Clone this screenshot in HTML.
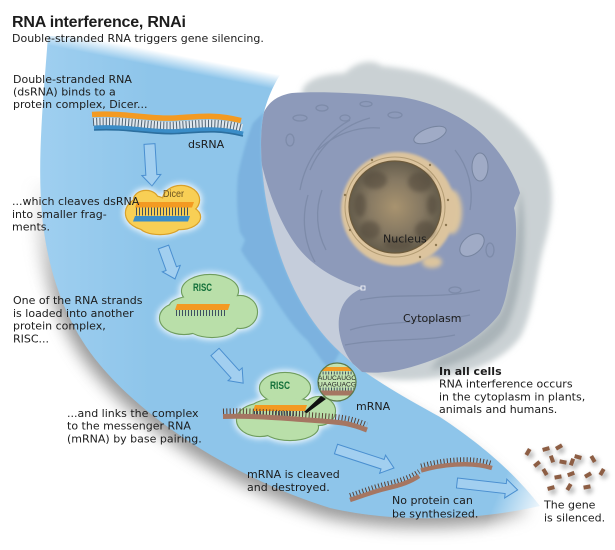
<!DOCTYPE html>
<html><head><meta charset="utf-8"><style>
html,body{margin:0;padding:0;background:#fff;}
svg{display:block;}
.t{font-family:"DejaVu Sans","Liberation Sans",sans-serif;font-size:11px;fill:#1c1c1c;}
</style></head><body>
<svg width="615" height="550" viewBox="0 0 615 550" xmlns="http://www.w3.org/2000/svg">
<defs>
<filter id="b1" x="-20%" y="-20%" width="140%" height="140%"><feGaussianBlur stdDeviation="1.2"/></filter>
<filter id="b2" x="-40%" y="-40%" width="180%" height="180%"><feGaussianBlur stdDeviation="2"/></filter>
<filter id="b3" x="-30%" y="-30%" width="160%" height="160%"><feGaussianBlur stdDeviation="3"/></filter>
<filter id="b5" x="-30%" y="-30%" width="160%" height="160%"><feGaussianBlur stdDeviation="5"/></filter>
<filter id="b8" x="-30%" y="-30%" width="160%" height="160%"><feGaussianBlur stdDeviation="8"/></filter>
<linearGradient id="gTop" gradientUnits="userSpaceOnUse" x1="160" y1="44" x2="153" y2="80"><stop offset="0.2" stop-color="#000"/><stop offset="0.62" stop-color="#fff"/></linearGradient>
<linearGradient id="gTip" gradientUnits="userSpaceOnUse" x1="503" y1="482" x2="550" y2="502"><stop offset="0" stop-color="#fff"/><stop offset="1" stop-color="#000"/></linearGradient>
<linearGradient id="gSh" gradientUnits="userSpaceOnUse" x1="0" y1="175" x2="0" y2="310"><stop offset="0" stop-color="#000"/><stop offset="1" stop-color="#fff"/></linearGradient>
<mask id="mTop" maskUnits="userSpaceOnUse" x="0" y="0" width="615" height="550"><rect width="615" height="550" fill="url(#gTop)"/></mask>
<mask id="mTip" maskUnits="userSpaceOnUse" x="0" y="0" width="615" height="550"><rect width="615" height="550" fill="url(#gTip)"/></mask>
<mask id="mSh" maskUnits="userSpaceOnUse" x="0" y="0" width="615" height="550"><rect width="615" height="550" fill="url(#gSh)"/></mask>
<linearGradient id="gBlue" gradientUnits="userSpaceOnUse" x1="40" y1="0" x2="150" y2="0"><stop offset="0" stop-color="#9fcff0"/><stop offset="1" stop-color="#8ec5ea"/></linearGradient>
<radialGradient id="gNuc" cx="395" cy="207" r="46" gradientUnits="userSpaceOnUse"><stop offset="0" stop-color="#a8936f"/><stop offset="0.6" stop-color="#857862"/><stop offset="1" stop-color="#655d4c"/></radialGradient>
<path id="cres" d="M48,36 C44,90 38,150 41,200 C44,260 62,320 100,365 C150,425 240,480 330,508 C390,522 470,522 540,506 C520,480 490,450 440,417 C400,395 365,375 340,352 C305,320 280,270 268,210 C262,180 258,140 264,112 C270,90 280,72 292,60 C220,48 120,38 48,36 Z"/>
<path id="body" d="M264,112 C270,100 280,95 292,93 C320,91 360,93 400,97 C430,101 460,115 480,132 C500,150 515,175 520,193 L514,208 C518,225 516,255 510,275 C507,290 506,300 500,313 C492,325 470,345 440,357 C415,367 390,375 362,372 L340,352 C305,320 280,270 268,210 C262,180 258,140 264,112 Z"/>
<clipPath id="cBody"><use href="#body"/></clipPath>
<clipPath id="cz"><circle cx="337" cy="382" r="19"/></clipPath>
<path id="ds" fill="none" d="M92,114.5 C125,112.5 150,119.5 175,118 S215,114 241,120.5"/>
<path id="mr" fill="none" d="M223,416.5 C255,415.5 285,418.5 315,420.5 S350,423.5 367,430"/>
<path id="fa" fill="none" d="M350,500 C362,496 375,491 388,488 S410,482 419,476"/>
<path id="fb" fill="none" d="M421,470.5 C440,465 470,461 492,468"/>
</defs>

<rect width="615" height="550" fill="#fff"/>

<!-- cell halo -->
<path d="M302,96 C300,82 318,74 345,73 C355,62 372,58 382,66 C405,68 432,73 456,85 C492,100 524,126 544,160 C556,186 553,216 544,246 C536,276 534,310 521,336 C507,357 478,371 442,377 C410,382 382,382 362,372 Z" fill="#cad1d4" filter="url(#b3)"/>
<path d="M520,190 C530,230 522,300 505,330 C490,350 460,365 430,370 L440,357 C470,345 492,325 500,313 C510,290 516,240 520,190 Z" fill="#a3adb2" filter="url(#b3)" opacity="0.8"/>

<!-- crescent + shadow -->
<g mask="url(#mTip)">
  <g mask="url(#mSh)"><use href="#cres" fill="#6e6e6e" opacity="0.7" transform="translate(-5,9)" filter="url(#b8)"/></g>
  <use href="#cres" fill="url(#gBlue)" mask="url(#mTop)"/>
</g>
<!-- darker cell silhouette in crescent -->
<path d="M253,123 C248,135 242,155 238,175 C236,195 237,215 240,232 L245,240 L241,250 C247,262 258,272 267,287 C276,300 290,325 307,340 C315,350 322,362 330,370 L340,352 C305,320 280,270 268,210 C262,180 258,140 264,112 Z" fill="#7bb2df" filter="url(#b1)"/>

<!-- cell body -->
<use href="#body" fill="#8d9aba"/>
<g clip-path="url(#cBody)" fill="none" stroke="#74829f" stroke-width="1.3" opacity="0.6">
  <path d="M318,150 A80,80 0 0 1 380,128"/>
  <path d="M310,170 A90,90 0 0 1 370,118"/>
  <path d="M300,190 A100,100 0 0 1 350,120"/>
  <path d="M326,250 A75,75 0 0 1 322,190"/>
  <path d="M315,262 A88,88 0 0 1 308,195"/>
  <path d="M455,150 A75,75 0 0 1 470,210"/>
  <path d="M350,330 C380,320 420,325 470,315"/>
  <path d="M345,345 C380,338 420,342 455,335"/>
  <path d="M360,300 C400,292 440,300 480,290"/>
  <ellipse cx="300" cy="118" rx="7" ry="3"/>
  <ellipse cx="322" cy="108" rx="6" ry="3"/>
  <ellipse cx="345" cy="118" rx="5" ry="3"/>
  <ellipse cx="366" cy="104" rx="6" ry="2.5"/>
  <ellipse cx="395" cy="115" rx="7" ry="3"/>
  <ellipse cx="290" cy="140" rx="4" ry="6"/>
  <ellipse cx="455" cy="290" rx="6" ry="3"/>
  <ellipse cx="490" cy="250" rx="4" ry="7"/>
</g>
<!-- mitochondria -->
<g fill="#a0abc6" stroke="#76849f" stroke-width="1">
  <ellipse cx="430" cy="135" rx="17" ry="7" transform="rotate(-20 430 135)"/>
  <ellipse cx="480" cy="167" rx="8" ry="14"/>
  <ellipse cx="472" cy="245" rx="14" ry="9" transform="rotate(-40 472 245)"/>
</g>
<!-- light wedge -->
<path d="M262,165 C264,190 266,200 268,210 C280,270 305,320 340,352 L362,372 C352,365 342,352 339,330 C337,310 345,295 363,288 C340,282 315,268 300,250 C285,232 270,200 262,165 Z" fill="#c5cddb"/>
<rect x="361" y="286" width="4" height="4" fill="none" stroke="#fff" stroke-width="0.8"/>

<!-- nucleus -->
<ellipse cx="452" cy="212" rx="10" ry="22" fill="#dcc59e" filter="url(#b2)"/>
<ellipse cx="432" cy="262" rx="10" ry="6" fill="#dcc59e" filter="url(#b2)"/>
<circle cx="398" cy="209" r="57" fill="#dcc49e" filter="url(#b1)"/>
<circle cx="395" cy="207" r="50" fill="none" stroke="#b39c73" stroke-width="1"/>
<circle cx="395" cy="207" r="46" fill="url(#gNuc)" stroke="#6d5b3c" stroke-width="1.2"/>
<g fill="#544c3e" opacity="0.6" filter="url(#b2)">
  <ellipse cx="375" cy="180" rx="12" ry="9"/>
  <ellipse cx="420" cy="182" rx="12" ry="10"/>
  <ellipse cx="370" cy="230" rx="10" ry="9"/>
  <ellipse cx="425" cy="230" rx="10" ry="9"/>
  <ellipse cx="398" cy="244" rx="14" ry="6"/>
  <ellipse cx="360" cy="205" rx="6" ry="12"/>
  <ellipse cx="432" cy="205" rx="5" ry="10"/>
</g>
<g fill="#8c7751">
  <circle cx="448" cy="200" r="1.2"/><circle cx="446" cy="225" r="1.2"/><circle cx="436" cy="245" r="1.2"/>
  <circle cx="420" cy="257" r="1.2"/><circle cx="350" cy="230" r="1.2"/><circle cx="345" cy="195" r="1.2"/>
  <circle cx="372" cy="160" r="1.2"/><circle cx="430" cy="165" r="1.2"/>
</g>

<!-- dsRNA -->
<use href="#ds" transform="translate(1,7.5)" stroke="#dfe7ee" stroke-width="8"/>
<use href="#ds" transform="translate(1,7.5)" stroke="#4f6272" stroke-width="8" stroke-dasharray="1 2.2"/>
<use href="#ds" transform="translate(2,13.5)" stroke="#3a8dc8" stroke-width="5"/>
<use href="#ds" transform="translate(2,15.5)" stroke="#2c6f9f" stroke-width="1.6"/>
<use href="#ds" stroke="#f39a22" stroke-width="5.5"/>

<!-- arrows -->
<g fill="#a2cff0" stroke="#4a8fd0" stroke-width="1">
  <path transform="translate(149.5,144) rotate(86.6)" d="M0,-5.5 L31,-5.5 L31,-9.5 L42,0 L31,9.5 L31,5.5 L0,5.5 Z"/>
  <path transform="translate(163.5,247) rotate(70.2)" d="M0,-5.5 L23,-5.5 L23,-9.5 L34,0 L23,9.5 L23,5.5 L0,5.5 Z"/>
  <path transform="translate(215,352) rotate(47.9)" d="M0,-5.5 L30,-5.5 L30,-9.5 L42,0 L30,9.5 L30,5.5 L0,5.5 Z"/>
  <path transform="translate(336,449) rotate(18.1)" d="M0,-5 L49,-5 L49,-9.5 L61,0 L49,9.5 L49,5 L0,5 Z"/>
  <path transform="translate(457,483) rotate(6.5)" d="M0,-5 L49,-5 L49,-9.5 L61,0 L49,9.5 L49,5 L0,5 Z"/>
</g>

<!-- Dicer -->
<g fill="#fff" stroke="#fff" stroke-width="6" opacity="0.85" filter="url(#b3)">
  <ellipse cx="150" cy="213" rx="24" ry="17"/><ellipse cx="181" cy="200" rx="18" ry="14"/><ellipse cx="180" cy="217" rx="20" ry="12"/><ellipse cx="160" cy="226" rx="20" ry="8"/><ellipse cx="146" cy="200" rx="12" ry="9"/>
</g>
<g fill="#d9a12a" stroke="#d9a12a" stroke-width="2.4">
  <ellipse cx="150" cy="213" rx="24" ry="17"/><ellipse cx="181" cy="200" rx="18" ry="14"/><ellipse cx="180" cy="217" rx="20" ry="12"/><ellipse cx="160" cy="226" rx="20" ry="8"/><ellipse cx="146" cy="200" rx="12" ry="9"/>
</g>
<g fill="#f8cf55">
  <ellipse cx="150" cy="213" rx="24" ry="17"/><ellipse cx="181" cy="200" rx="18" ry="14"/><ellipse cx="180" cy="217" rx="20" ry="12"/><ellipse cx="160" cy="226" rx="20" ry="8"/><ellipse cx="146" cy="200" rx="12" ry="9"/>
</g>
<text x="163" y="197" font-family="Liberation Sans, sans-serif" font-size="10" fill="#6b5320" textLength="21" lengthAdjust="spacingAndGlyphs">Dicer</text>
<line x1="136" y1="211.5" x2="190" y2="211.5" stroke="#3e4f60" stroke-width="8" stroke-dasharray="1 2"/>
<polygon points="137,202 194,202 192,207.5 135,207.5" fill="#f39a22"/>
<polygon points="135,216 190,216 188,221.5 133,221.5" fill="#3a8dc8"/>

<!-- RISC 1 -->
<g fill="#fff" stroke="#fff" stroke-width="6" opacity="0.85" filter="url(#b3)">
  <ellipse cx="210" cy="291" rx="28" ry="16"/><ellipse cx="184" cy="318" rx="24" ry="16"/><ellipse cx="212" cy="324" rx="26" ry="13"/><ellipse cx="240" cy="312" rx="17" ry="16"/><ellipse cx="200" cy="306" rx="30" ry="10"/>
</g>
<g fill="#6f9d5e" stroke="#6f9d5e" stroke-width="2.2">
  <ellipse cx="210" cy="291" rx="28" ry="16"/><ellipse cx="184" cy="318" rx="24" ry="16"/><ellipse cx="212" cy="324" rx="26" ry="13"/><ellipse cx="240" cy="312" rx="17" ry="16"/><ellipse cx="200" cy="306" rx="30" ry="10"/>
</g>
<g fill="#b9dfa9">
  <ellipse cx="210" cy="291" rx="28" ry="16"/><ellipse cx="184" cy="318" rx="24" ry="16"/><ellipse cx="212" cy="324" rx="26" ry="13"/><ellipse cx="240" cy="312" rx="17" ry="16"/><ellipse cx="200" cy="306" rx="30" ry="10"/>
</g>
<text x="193" y="291" font-family="Liberation Sans, sans-serif" font-size="11" font-weight="bold" fill="#13703a" textLength="19" lengthAdjust="spacingAndGlyphs">RISC</text>
<line x1="176" y1="313" x2="227" y2="313" stroke="#3e4f60" stroke-width="6" stroke-dasharray="1 2"/>
<polygon points="177,304 230,304 228,310 175,310" fill="#f39a22"/>

<!-- RISC 2 -->
<g fill="#fff" stroke="#fff" stroke-width="6" opacity="0.85" filter="url(#b3)">
  <ellipse cx="285" cy="388" rx="25" ry="15"/><ellipse cx="260" cy="420" rx="23" ry="16"/><ellipse cx="290" cy="427" rx="28" ry="13"/><ellipse cx="319" cy="411" rx="16" ry="14"/><ellipse cx="285" cy="410" rx="35" ry="12"/>
</g>
<g fill="#6f9d5e" stroke="#6f9d5e" stroke-width="2.2">
  <ellipse cx="285" cy="388" rx="25" ry="15"/><ellipse cx="260" cy="420" rx="23" ry="16"/><ellipse cx="290" cy="427" rx="28" ry="13"/><ellipse cx="319" cy="411" rx="16" ry="14"/><ellipse cx="285" cy="410" rx="35" ry="12"/>
</g>
<g fill="#b9dfa9">
  <ellipse cx="285" cy="388" rx="25" ry="15"/><ellipse cx="260" cy="420" rx="23" ry="16"/><ellipse cx="290" cy="427" rx="28" ry="13"/><ellipse cx="319" cy="411" rx="16" ry="14"/><ellipse cx="285" cy="410" rx="35" ry="12"/>
</g>
<text x="270" y="389" font-family="Liberation Sans, sans-serif" font-size="11" font-weight="bold" fill="#13703a" textLength="20" lengthAdjust="spacingAndGlyphs">RISC</text>
<line x1="254" y1="413.5" x2="305" y2="413.5" stroke="#3e4f60" stroke-width="5" stroke-dasharray="1 2"/>
<polygon points="255,405 307,405 305,411 253,411" fill="#f39a22"/>

<!-- mRNA -->
<use href="#mr" transform="translate(0,-5)" stroke="#5a4034" stroke-width="6" stroke-dasharray="1 2.3"/>
<use href="#mr" stroke="#a57662" stroke-width="5"/>

<!-- zoom circle -->
<g clip-path="url(#cz)">
  <rect x="317" y="362" width="40" height="40" fill="#c2e2b2"/>
  <rect x="317" y="367" width="40" height="4" fill="#f29a26"/>
  <line x1="317" y1="373" x2="357" y2="373" stroke="#3e4f60" stroke-width="3" stroke-dasharray="1 1.8"/>
  <text x="318" y="380" font-family="Liberation Sans, sans-serif" font-size="6" fill="#222" textLength="38" lengthAdjust="spacingAndGlyphs">AUUCAUGC</text>
  <text x="318" y="386.5" font-family="Liberation Sans, sans-serif" font-size="6" fill="#222" textLength="38" lengthAdjust="spacingAndGlyphs">UAAGUACG</text>
  <line x1="317" y1="389" x2="357" y2="389" stroke="#3e4f60" stroke-width="3" stroke-dasharray="1 1.8"/>
  <rect x="317" y="390.5" width="40" height="5" fill="#a57662"/>
</g>
<circle cx="337" cy="382" r="19" fill="none" stroke="#5b7a4a" stroke-width="1.2"/>
<polygon points="321,396 326,399 307,413 304,412" fill="#111"/>

<!-- fragments -->
<use href="#fa" transform="translate(0,-4.5)" stroke="#5a4034" stroke-width="5" stroke-dasharray="1 2.3"/>
<use href="#fa" stroke="#a57662" stroke-width="4.5"/>
<use href="#fb" transform="translate(0,-4.5)" stroke="#5a4034" stroke-width="5" stroke-dasharray="1 2.3"/>
<use href="#fb" stroke="#a57662" stroke-width="4.5"/>

<!-- scattered pieces -->
<g>
  <g fill="#8a8a8a" opacity="0.55" filter="url(#b2)">
    <circle cx="530" cy="455" r="4"/><circle cx="548" cy="452" r="4"/><circle cx="561" cy="450" r="4"/><circle cx="539" cy="467" r="4"/><circle cx="554" cy="462" r="4"/><circle cx="565" cy="465" r="4"/><circle cx="574" cy="465" r="4"/><circle cx="580" cy="460" r="4"/><circle cx="595" cy="462" r="4"/><circle cx="547" cy="475" r="4"/><circle cx="560" cy="480" r="4"/><circle cx="573" cy="477" r="4"/><circle cx="590" cy="478" r="4"/><circle cx="604" cy="475" r="4"/><circle cx="553" cy="491" r="4"/><circle cx="571" cy="490" r="4"/><circle cx="589" cy="490" r="4"/>
  </g>
  <g fill="#8d5e44">
    <rect x="-3.5" y="-2" width="7" height="4" transform="translate(528,452) rotate(-60)"/>
    <rect x="-3.5" y="-2" width="7" height="4" transform="translate(546,449) rotate(-15)"/>
    <rect x="-3.5" y="-2" width="7" height="4" transform="translate(559,447) rotate(-30)"/>
    <rect x="-3.5" y="-2" width="7" height="4" transform="translate(537,464) rotate(-40)"/>
    <rect x="-3.5" y="-2" width="7" height="4" transform="translate(552,459) rotate(70)"/>
    <rect x="-3.5" y="-2" width="7" height="4" transform="translate(563,462) rotate(10)"/>
    <rect x="-3.5" y="-2" width="7" height="4" transform="translate(572,462) rotate(-70)"/>
    <rect x="-3.5" y="-2" width="7" height="4" transform="translate(578,457) rotate(15)"/>
    <rect x="-3.5" y="-2" width="7" height="4" transform="translate(593,459) rotate(60)"/>
    <rect x="-3.5" y="-2" width="7" height="4" transform="translate(545,472) rotate(60)"/>
    <rect x="-3.5" y="-2" width="7" height="4" transform="translate(558,477) rotate(-10)"/>
    <rect x="-3.5" y="-2" width="7" height="4" transform="translate(571,474) rotate(-20)"/>
    <rect x="-3.5" y="-2" width="7" height="4" transform="translate(588,475) rotate(-30)"/>
    <rect x="-3.5" y="-2" width="7" height="4" transform="translate(602,472) rotate(-60)"/>
    <rect x="-3.5" y="-2" width="7" height="4" transform="translate(551,488) rotate(-15)"/>
    <rect x="-3.5" y="-2" width="7" height="4" transform="translate(569,487) rotate(-60)"/>
    <rect x="-3.5" y="-2" width="7" height="4" transform="translate(587,487) rotate(-10)"/>
  </g>
</g>

<!-- text -->
<text x="12" y="27" font-family="Liberation Sans, sans-serif" font-size="16" font-weight="bold" letter-spacing="-0.2" fill="#1c1c1c">RNA interference, RNAi</text>
<text class="t" x="12" y="42">Double-stranded RNA triggers gene silencing.</text>

<text class="t" x="13" y="83">Double-stranded RNA</text>
<text class="t" x="13" y="95.5">(dsRNA) binds to a</text>
<text class="t" x="13" y="108">protein complex, Dicer...</text>
<text class="t" x="188" y="148">dsRNA</text>

<text class="t" x="12" y="205">...which cleaves dsRNA</text>
<text class="t" x="12" y="218">into smaller frag-</text>
<text class="t" x="12" y="230.5">ments.</text>

<text class="t" x="13" y="304">One of the RNA strands</text>
<text class="t" x="13" y="317">is loaded into another</text>
<text class="t" x="13" y="329.5">protein complex,</text>
<text class="t" x="13" y="342.5">RISC...</text>

<text class="t" x="67" y="417">...and links the complex</text>
<text class="t" x="67" y="429.5">to the messenger RNA</text>
<text class="t" x="67" y="442.5">(mRNA) by base pairing.</text>

<text class="t" x="356" y="410">mRNA</text>

<text class="t" x="247" y="478">mRNA is cleaved</text>
<text class="t" x="247" y="491">and destroyed.</text>

<text class="t" x="392" y="504">No protein can</text>
<text class="t" x="392" y="517.5">be synthesized.</text>

<text class="t" x="544" y="508.5">The gene</text>
<text class="t" x="544" y="521.5">is silenced.</text>

<text class="t" x="439" y="375" font-weight="bold">In all cells</text>
<text class="t" x="439" y="387.5">RNA interference occurs</text>
<text class="t" x="439" y="400.5">in the cytoplasm in plants,</text>
<text class="t" x="439" y="413">animals and humans.</text>

<text class="t" x="383" y="242.5">Nucleus</text>
<text class="t" x="403" y="322">Cytoplasm</text>
</svg>
</body></html>
